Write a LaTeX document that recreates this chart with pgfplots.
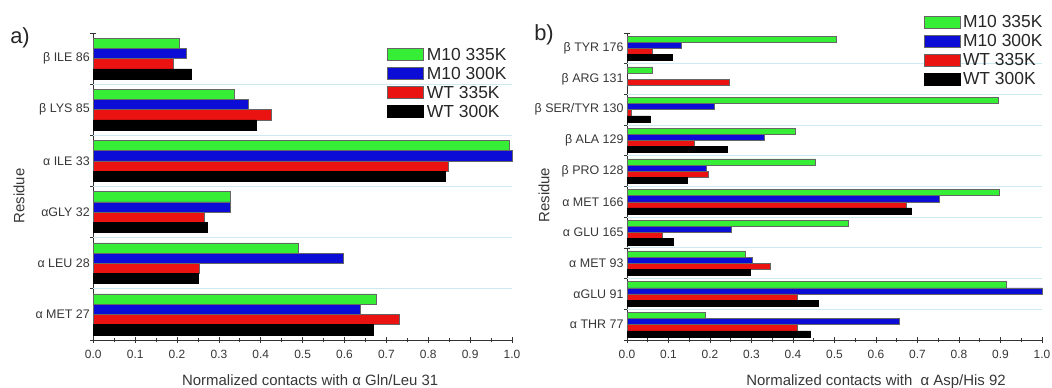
\documentclass[border=0pt]{standalone}
\usepackage{fontspec}
\setmainfont{Liberation Sans}
\usepackage{pgfplots}
\pgfplotsset{compat=1.18}
\definecolor{cg}{RGB}{55,238,55}
\definecolor{cb}{RGB}{12,12,215}
\definecolor{cr}{RGB}{235,18,18}
\definecolor{grd}{RGB}{205,233,242}
\definecolor{txt}{RGB}{55,55,55}
\pgfplotsset{
  myaxis/.style={
    scale only axis, height=307bp, anchor=south west,
    xmin=0, xmax=1, clip=false,
    axis x line*=bottom, axis y line*=left,
    axis line style={black!80, line width=0.8bp, -},
    xtick={0,0.1,...,1.0}, minor x tick num=1,
    tick align=center, major tick length=6bp, minor tick length=3.5bp,
    tick style={black!80, line width=0.7bp},
    /pgf/number format/fixed, /pgf/number format/fixed zerofill,
    /pgf/number format/precision=1, /pgf/number format/assume math mode=true,
    xticklabel style={font=\fontsize{12}{12}\selectfont, text=txt, yshift=-4bp},
    yticklabels={},
    extra y tick style={major tick length=0pt, yticklabel style={font=\fontsize{12.5}{12.5}\selectfont, text=txt}},
    xlabel style={anchor=base, yshift=-45bp, font=\fontsize{15}{15}\selectfont, text=txt},
    ylabel=Residue,
    ylabel style={anchor=center, font=\fontsize{15}{15}\selectfont, text=txt},
    legend image code/.code={\draw[##1] (0bp,-6bp) rectangle (36bp,6bp);},
    legend style={anchor=north west, draw=none, fill=none, inner sep=0pt,
      font=\fontsize{17.5}{17.5}\selectfont, text=black!85, row sep=4.5bp,
      nodes={inner sep=1.5bp, text height=11.5bp, text depth=0bp},
      /tikz/every odd column/.append style={column sep=1.5bp}},
    legend cell align=left,
  },
  gbar/.style={xbar, bar width=0.2, bar shift=0.3, fill=cg, draw=black!60, line width=0.5bp},
  bbar/.style={xbar, bar width=0.2, bar shift=0.1, fill=cb, draw=black!60, line width=0.5bp},
  rbar/.style={xbar, bar width=0.2, bar shift=-0.1, fill=cr, draw=black!60, line width=0.5bp},
  kbar/.style={xbar, bar width=0.2, bar shift=-0.3, fill=black, draw=black, line width=0.5bp},
}
\begin{document}
\begin{tikzpicture}[x=1bp,y=1bp]
\useasboundingbox (0,0) rectangle (1052,387);
% ---------- panel a ----------
\begin{axis}[myaxis, at={(93.3bp,47bp)}, width=418.7bp,
  ymin=-0.5, ymax=5.5, ytick={-0.5,0.5,...,5.5},
  extra y ticks={0,1,2,3,4,5},
  extra y tick labels={α MET 27, α LEU 28, αGLY 32, α ILE 33, β LYS 85, β ILE 86},
  xlabel={Normalized contacts with α Gln/Leu 31},
  xlabel style={at={(axis description cs:0.518,0)}},
  ylabel style={at={(axis description cs:-0.1775,0.469)}},
  legend style={at={(0.702,0.955)}}]
\draw[grd, line width=0.9bp] (axis cs:0,0.5) -- (axis cs:1,0.5);
\draw[grd, line width=0.9bp] (axis cs:0,1.5) -- (axis cs:1,1.5);
\draw[grd, line width=0.9bp] (axis cs:0,2.5) -- (axis cs:1,2.5);
\draw[grd, line width=0.9bp] (axis cs:0,3.5) -- (axis cs:1,3.5);
\draw[grd, line width=0.9bp] (axis cs:0,4.5) -- (axis cs:1,4.5);
\addplot[gbar] coordinates {(0.676,0) (0.489,1) (0.326,2) (0.993,3) (0.337,4) (0.205,5)};
\addplot[bbar] coordinates {(0.637,0) (0.598,1) (0.328,2) (1.000,3) (0.370,4) (0.222,5)};
\addplot[rbar] coordinates {(0.731,0) (0.254,1) (0.264,2) (0.847,3) (0.425,4) (0.192,5)};
\addplot[kbar] coordinates {(0.668,0) (0.251,1) (0.273,2) (0.841,3) (0.390,4) (0.235,5)};
\legend{M10 335K, M10 300K, WT 335K, WT 300K}
\end{axis}
% ---------- panel b ----------
\begin{axis}[myaxis, at={(627bp,47bp)}, width=415bp,
  ymin=-0.5, ymax=9.5, ytick={-0.5,0.5,...,9.5},
  extra y ticks={0,1,2,3,4,5,6,7,8,9},
  extra y tick labels={α THR 77, αGLU 91, α MET 93, α GLU 165, α MET 166, β PRO 128, β ALA 129, β SER/TYR 130, β ARG 131, β TYR 176},
  xlabel={Normalized contacts with \ α Asp/His 92},
  xlabel style={at={(axis description cs:0.60,0)}},
  ylabel style={at={(axis description cs:-0.2,0.472)}},
  legend style={at={(0.714,1.06)}}]
\draw[grd, line width=0.9bp] (axis cs:0,0.5) -- (axis cs:1,0.5);
\draw[grd, line width=0.9bp] (axis cs:0,1.5) -- (axis cs:1,1.5);
\draw[grd, line width=0.9bp] (axis cs:0,2.5) -- (axis cs:1,2.5);
\draw[grd, line width=0.9bp] (axis cs:0,3.5) -- (axis cs:1,3.5);
\draw[grd, line width=0.9bp] (axis cs:0,4.5) -- (axis cs:1,4.5);
\draw[grd, line width=0.9bp] (axis cs:0,5.5) -- (axis cs:1,5.5);
\draw[grd, line width=0.9bp] (axis cs:0,6.5) -- (axis cs:1,6.5);
\draw[grd, line width=0.9bp] (axis cs:0,7.5) -- (axis cs:1,7.5);
\draw[grd, line width=0.9bp] (axis cs:0,8.5) -- (axis cs:1,8.5);
\addplot[gbar] coordinates {(0.189,0) (0.915,1) (0.284,2) (0.534,3) (0.898,4) (0.453,5) (0.405,6) (0.894,7) (0.062,8) (0.503,9)};
\addplot[bbar] coordinates {(0.655,0) (1.000,1) (0.301,2) (0.252,3) (0.752,4) (0.192,5) (0.331,6) (0.211,7) (0.131,9)};
\addplot[rbar] coordinates {(0.411,0) (0.411,1) (0.345,2) (0.084,3) (0.673,4) (0.196,5) (0.161,6) (0.010,7) (0.246,8) (0.062,9)};
\addplot[kbar] coordinates {(0.442,0) (0.462,1) (0.297,2) (0.111,3) (0.686,4) (0.145,5) (0.241,6) (0.056,7) (0.109,9)};
\legend{M10 335K, M10 300K, WT 335K, WT 300K}
\end{axis}
\node[font=\fontsize{22}{22}\selectfont, text=black!85] at (20,349) {a)};
\node[font=\fontsize{22}{22}\selectfont, text=black!85] at (544,352) {b)};
\end{tikzpicture}
\end{document}
